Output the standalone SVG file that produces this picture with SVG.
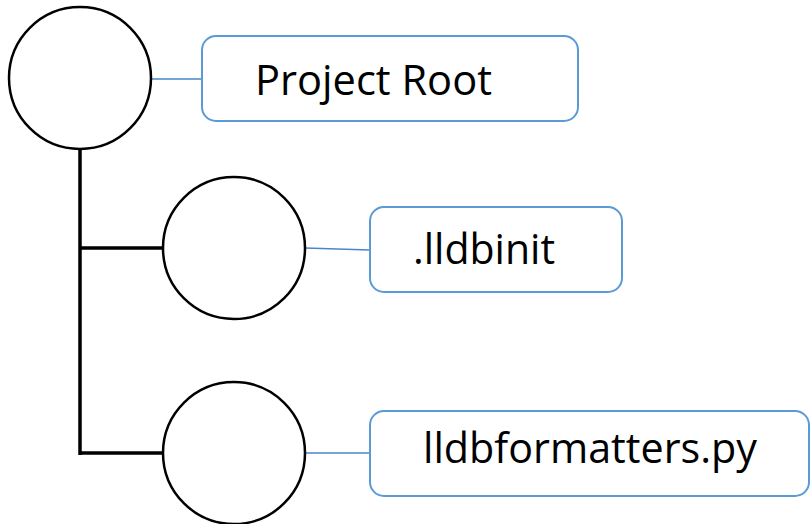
<svg xmlns="http://www.w3.org/2000/svg" width="811" height="524" viewBox="0 0 811 524">
  <style>
    .node-circle { fill: #ffffff; stroke: #000000; stroke-width: 2.5; }
    .label-box { fill: #ffffff; stroke: #5b9bd5; stroke-width: 2; }
    .label { font-family: "Open Sans", "Liberation Sans", sans-serif; font-size: 42px; fill: #000000; }
    .tree { stroke: #000000; stroke-width: 3.5; fill: none; }
    .link { stroke: #4a86c8; stroke-width: 1.5; fill: none; }
  </style>
  <rect width="811" height="524" fill="#ffffff"/>

  <!-- tree trunk and branches, plus circle-to-label links -->
  <g id="connectors">
    <path class="tree" d="M80 149 V455 M80 248 H163 M80 453 H163"/>
    <path class="link" d="M151 79 H202"/>
    <path class="link" d="M305 248 L370 250"/>
    <path class="link" d="M305 453 H370"/>
  </g>

  <g id="root-circle">
    <circle class="node-circle" cx="80" cy="78" r="71"/>
  </g>
  <g id="root-label">
    <rect class="label-box" x="202" y="36" width="376" height="85" rx="14"/>
    <text class="label" x="255" y="95" textLength="237" lengthAdjust="spacingAndGlyphs">Project Root</text>
  </g>

  <g id="lldbinit-circle">
    <circle class="node-circle" cx="234" cy="248" r="71"/>
  </g>
  <g id="lldbinit-label">
    <rect class="label-box" x="370" y="207" width="252" height="85" rx="14"/>
    <text class="label" x="413" y="264" textLength="142" lengthAdjust="spacingAndGlyphs">.lldbinit</text>
  </g>

  <g id="formatters-circle">
    <circle class="node-circle" cx="234" cy="453" r="71"/>
  </g>
  <g id="formatters-label">
    <rect class="label-box" x="370" y="411" width="439" height="85" rx="14"/>
    <text class="label" x="423" y="463" textLength="334" lengthAdjust="spacingAndGlyphs">lldbformatters.py</text>
  </g>
</svg>
